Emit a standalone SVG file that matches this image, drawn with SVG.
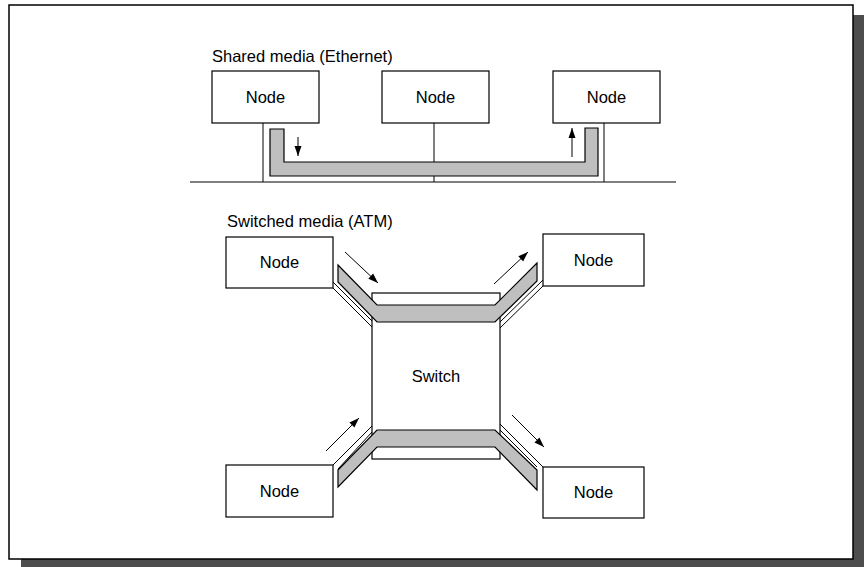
<svg xmlns="http://www.w3.org/2000/svg" width="864" height="567" viewBox="0 0 864 567">
<defs>
<marker id="ah" viewBox="0 0 10 10" refX="10" refY="5" markerWidth="10" markerHeight="10" markerUnits="userSpaceOnUse" orient="auto">
<path d="M0,1.5 L10,5 L0,8.5 Z" fill="#000"/>
</marker>
</defs>
<style>
.box{fill:#fff;stroke:#000;stroke-width:1.2}
.ln{fill:none;stroke:#000;stroke-width:1}
.band{fill:#bfbfbf;stroke:#000;stroke-width:1.2;stroke-linejoin:miter}
.arr{fill:none;stroke:#000;stroke-width:1;marker-end:url(#ah)}
.t{font-family:"Liberation Sans",Arial,sans-serif;font-size:16.5px;fill:#000}
.c{text-anchor:middle}
</style>
<rect x="21" y="15" width="843" height="552" fill="#4d4d4d"/>
<rect x="9" y="5" width="844" height="554" fill="#fff" stroke="#000" stroke-width="1.5"/>

<text class="t" x="212" y="62">Shared media (Ethernet)</text>
<text class="t" x="227" y="227">Switched media (ATM)</text>

<g id="connectors">
<line class="ln" x1="190" y1="182" x2="676" y2="182"/>
<line class="ln" x1="263" y1="123" x2="263" y2="182"/>
<line class="ln" x1="434" y1="123" x2="434" y2="182"/>
<line class="ln" x1="604" y1="123" x2="604" y2="182"/>
<path class="band" d="M270,129 L284,129 L284,162 L585,162 L585,128 L598,128 L598,176 L270,176 Z"/>
<line class="arr" x1="298" y1="137" x2="298" y2="156"/>
<line class="arr" x1="572" y1="157" x2="572" y2="128"/>
</g>

<g id="shared-node-1"><rect class="box" x="212" y="71" width="107" height="52"/><text class="t c" x="265.5" y="103">Node</text></g>
<g id="shared-node-2"><rect class="box" x="382" y="71" width="107" height="52"/><text class="t c" x="435.5" y="103">Node</text></g>
<g id="shared-node-3"><rect class="box" x="553" y="71" width="107" height="52"/><text class="t c" x="606.5" y="103">Node</text></g>

<g id="switch"><rect class="box" x="372" y="293" width="128" height="166"/><text class="t c" x="436" y="382">Switch</text></g>

<g id="switched-connectors">
<line class="ln" x1="333" y1="282" x2="372" y2="321"/>
<line class="ln" x1="333" y1="288" x2="372" y2="327"/>
<line class="ln" x1="543" y1="280" x2="500" y2="322"/>
<line class="ln" x1="543" y1="286" x2="500" y2="328"/>
<line class="ln" x1="333" y1="465" x2="372" y2="426"/>
<line class="ln" x1="338" y1="469" x2="372" y2="432"/>
<line class="ln" x1="543" y1="467" x2="500" y2="424"/>
<line class="ln" x1="537" y1="467" x2="500" y2="430"/>
<path class="band" d="M338,265 L377,305 L495,305 L537,263 L537,281 L495,322 L377,322 L338,282 Z"/>
<path class="band" d="M338,470 L377,430 L495,430 L537,470 L537,490 L495,447 L377,447 L338,487 Z"/>
<line class="arr" x1="345" y1="252" x2="378" y2="283"/>
<line class="arr" x1="494" y1="284" x2="528" y2="252"/>
<line class="arr" x1="326" y1="451" x2="359" y2="418"/>
<line class="arr" x1="512" y1="415" x2="544" y2="447"/>
</g>

<g id="sw-node-tl"><rect class="box" x="226" y="237" width="107" height="51"/><text class="t c" x="279.5" y="268">Node</text></g>
<g id="sw-node-tr"><rect class="box" x="543" y="234" width="101" height="52"/><text class="t c" x="593.5" y="266">Node</text></g>
<g id="sw-node-bl"><rect class="box" x="226" y="465" width="107" height="52"/><text class="t c" x="279.5" y="497">Node</text></g>
<g id="sw-node-br"><rect class="box" x="543" y="467" width="101" height="51"/><text class="t c" x="593.5" y="498">Node</text></g>
</svg>
